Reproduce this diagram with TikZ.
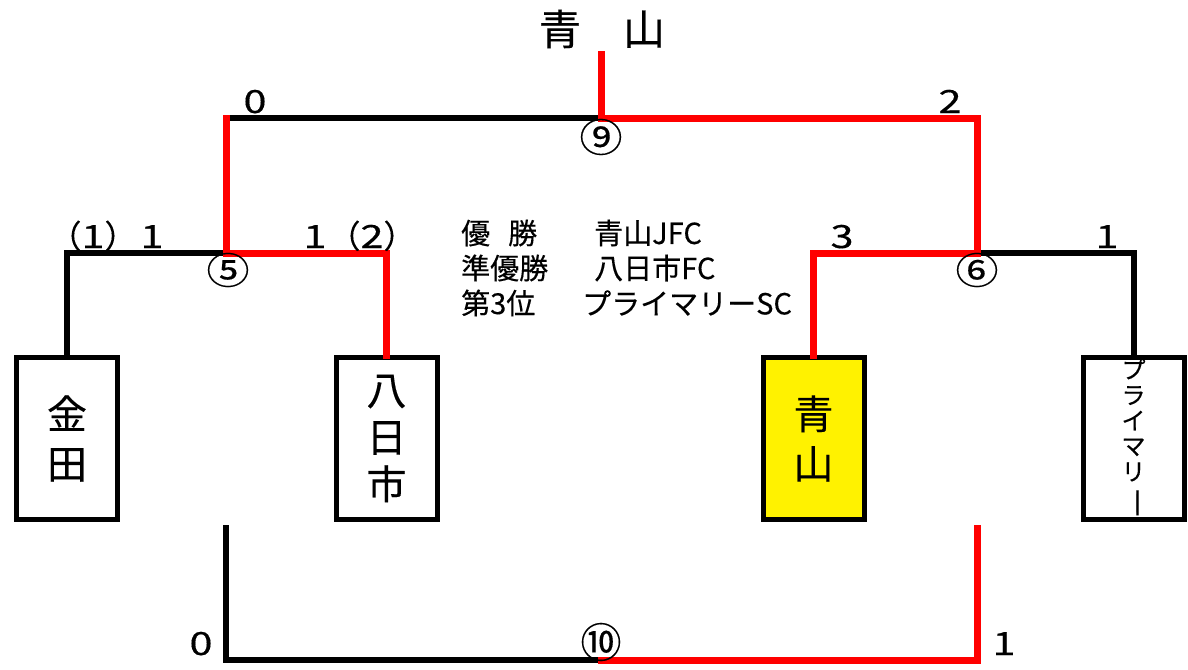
\documentclass[tikz,border=0pt]{standalone}
\usepackage{fontspec}
\usepackage{graphicx}
\setmainfont[FakeBold=0.3]{Noto Sans CJK JP}
\newcommand{\wdig}[1]{\scalebox{1.3}[1]{#1}}
\begin{document}
\begin{tikzpicture}[x=1pt,y=-1pt,
  bline/.style={line width=6pt,black,line cap=rect},
  rline/.style={line width=7pt,red,line cap=rect},
  team/.style={draw,line width=5pt,minimum width=101pt,minimum height=162pt,inner sep=0pt,align=center},
  score/.style={font=\fontsize{32}{36}\selectfont,anchor=base,inner sep=0pt},
  circ/.style={font=\fontsize{41}{42}\selectfont,inner sep=0pt},
  info/.style={font=\fontsize{29}{30}\selectfont,anchor=west,inner sep=0pt}]
\useasboundingbox[fill=white] (0,0) rectangle (1188,669);
% teams
\node[team,font=\fontsize{40}{50}\selectfont] (kanada) at (67,438.5) {金\\田};
\node[team,font=\fontsize{40}{47}\selectfont] (yoka) at (386.5,438.5) {八\\日\\市};
\node[team,fill=yellow,font=\fontsize{40}{50}\selectfont] (aoyama) at (813.5,438.5) {青\\山};
\node[team,font=\fontsize{24}{25.5}\selectfont] (primary) at (1133.5,438.5) {プ\\ラ\\イ\\マ\\リ\\\raisebox{-2pt}{\rotatebox[origin=c]{-90}{\scalebox{1.3}[1]{ー}}}};
% junctions
\coordinate (champ) at (601,55);
\coordinate (m9) at (601,118);
\coordinate (m9l) at (226,118);
\coordinate (m5) at (226,253);
\coordinate (m6) at (977,253);
\coordinate (m10) at (601,660);
\coordinate (lf) at (226,528);
\coordinate (rf) at (977,528);
% black (losing) lines
\draw[bline] (m9) -- (m9l);
\draw[bline] (m5) -| (kanada.north);
\draw[bline] (m6) -| (primary.north);
\draw[bline] (lf) |- (m10);
% red (winning) lines
\draw[rline] (champ) -- (m9) -| (m6);
\draw[rline] (m9l) -- (m5) -| (yoka.north);
\draw[rline] (m6) -| (aoyama.north);
\draw[rline] (m10) -| (rf);
% match numbers
\node[circ] (c9) at (601,137) {\scalebox{1.05}[0.95]{⑨}};
\node[circ] (c5) at (228,270) {\scalebox{1.05}[0.9]{⑤}};
\node[circ] (c6) at (977,270) {\scalebox{1.05}[0.9]{⑥}};
\node[circ] (c10) at (601,642) {⑩};
% scores
\node[score] (s9l) at (255,113) {\wdig{0}};
\node[score] (s9r) at (950,113) {\wdig{2}};
\node[score] (p1) at (93,248) {（\wdig{1}）};
\node[score] (s5l) at (152,248) {\wdig{1}};
\node[score] (s5r) at (315,248) {\wdig{1}};
\node[score] (p2) at (372,248) {（\wdig{2}）};
\node[score] (s6l) at (842,248) {\wdig{3}};
\node[score] (s6r) at (1107,248) {\wdig{1}};
\node[score] (s10l) at (201,655) {\wdig{0}};
\node[score] (s10r) at (1004,655) {\wdig{1}};
% title
\node[font=\fontsize{42}{44}\selectfont,inner sep=0pt] (title) at (602,29) {青　山};
% results
\node[info] (r1a) at (461,233) {優\hspace{18pt}勝};
\node[info] (r1b) at (594,233) {青山JFC};
\node[info] (r2a) at (461,268) {準優勝};
\node[info] (r2b) at (594,268) {八日市FC};
\node[info] (r3a) at (461,303) {第3位};
\node[info] (r3b) at (582,303) {プライマリーSC};
\end{tikzpicture}
\end{document}
